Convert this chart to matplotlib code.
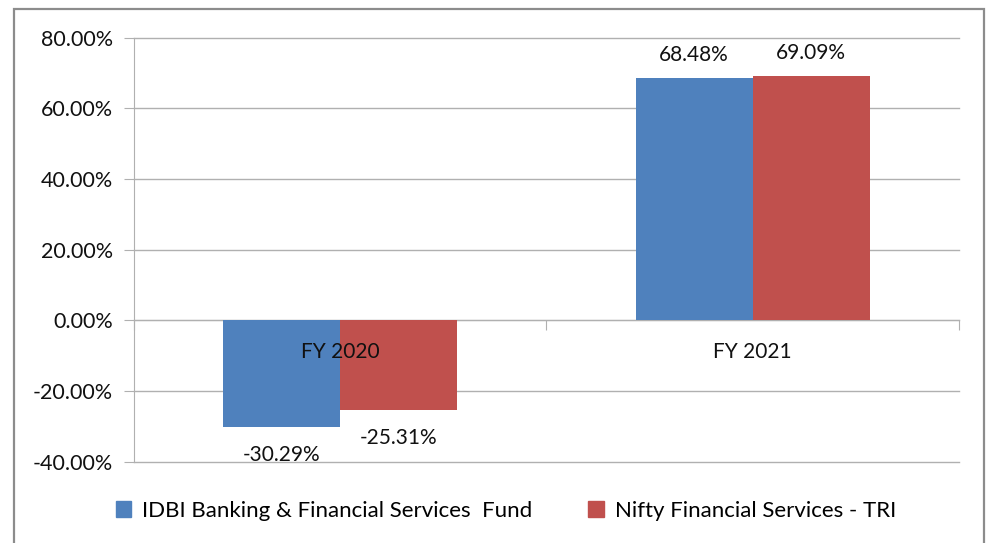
import numpy as np
import matplotlib.pyplot as plt
from matplotlib.patches import Rectangle, Patch

# fund vs benchmark returns, in percent
years = ['FY 2020', 'FY 2021']
fund = [-30.29, 68.48]
index = [-25.31, 69.09]
names = ['IDBI Banking & Financial Services  Fund', 'Nifty Financial Services - TRI']
yticks = [-40, -20, 0, 20, 40, 60, 80]

blue = '#4F81BD'
red = '#C0504D'
grid_c = '#B0B0B0'

plt.rcParams['font.family'] = ['Lato', 'DejaVu Sans']

fig = plt.figure(figsize=(9.86, 5.43), dpi=100)
ax = fig.add_axes([0.1359, 0.1497, 0.8367, 0.7809])

x = np.arange(len(years))
w = 0.284
b1 = ax.bar(x - w/2, fund, w, color=blue, zorder=3)
b2 = ax.bar(x + w/2, index, w, color=red, zorder=3)

ax.set_xlim(-0.5, 1.5)
ax.set_ylim(-40, 80)
ax.set_yticks(yticks)
ax.set_yticklabels(['%.2f%%' % v for v in yticks], fontsize=15.5)
ax.yaxis.grid(True, color=grid_c, lw=1)
for gl in ax.get_ygridlines():
    gl.set_clip_on(False)
ax.set_axisbelow(True)
ax.tick_params(axis='y', length=7, color=grid_c, pad=8, labelcolor='#111111')

# category axis sits on the zero line
ax.spines['bottom'].set_position(('data', 0))
ax.spines['bottom'].set_color(grid_c)
ax.spines['left'].set_color(grid_c)
ax.spines['top'].set_visible(False)
ax.spines['right'].set_visible(False)
ax.set_xticks([-0.5, 0.5, 1.5])
ax.set_xticklabels([])
ax.tick_params(axis='x', length=7, color=grid_c, direction='out')

# category names drawn on top of the bars, as in the original
for i, name in enumerate(years):
    ax.annotate(name, (i, 0), xytext=(0, -23), textcoords='offset points',
                ha='center', va='center', fontsize=15, color='#111111', zorder=5)

for bars, vals in ((b1, fund), (b2, index)):
    for r, v in zip(bars, vals):
        cx = r.get_x() + r.get_width()/2
        off = 17 if v > 0 else -20
        ax.annotate('%.2f%%' % v, (cx, v), xytext=(0, off), textcoords='offset points',
                    ha='center', va='center', fontsize=15, color='#111111')

handles = [Patch(color=blue), Patch(color=red)]
fig.legend(handles, names, loc='center', bbox_to_anchor=(0.513, 0.059), ncol=2,
           frameon=False, fontsize=16, handlelength=0.7, handleheight=0.7,
           handletextpad=0.5, columnspacing=2.5)

fig.patches.append(Rectangle((14/986, -0.05), 970/986, 1.05 - 9/543, transform=fig.transFigure,
                             fill=False, edgecolor='#8C8C8C', lw=1.6))

fig.savefig('out.png', dpi=100)
